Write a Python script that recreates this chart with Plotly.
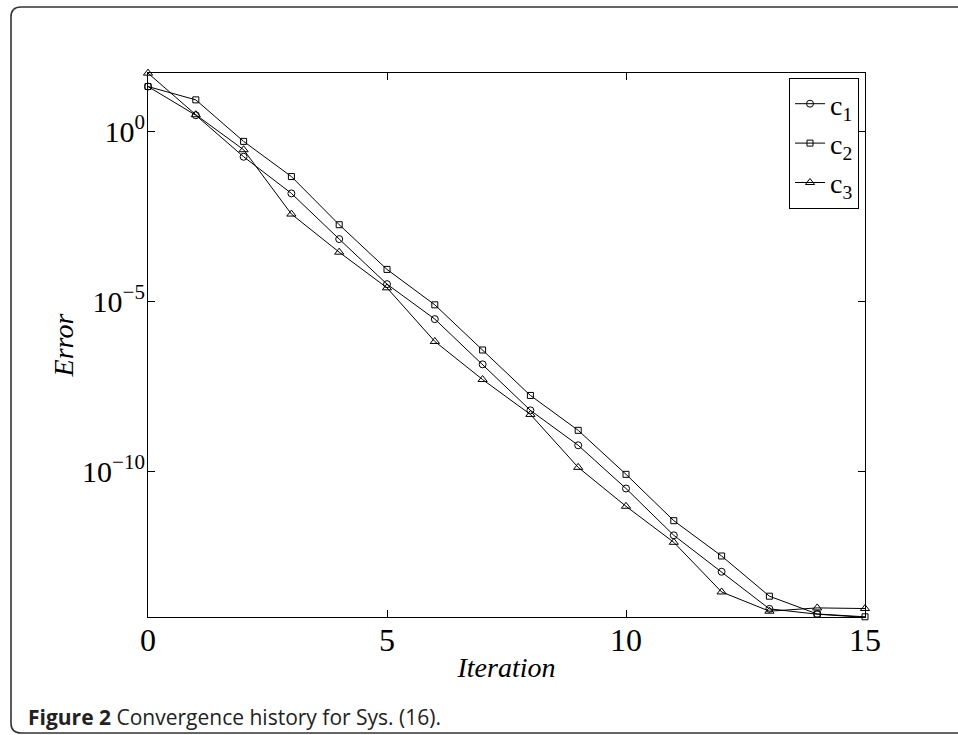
import plotly.graph_objects as go

iterations = list(range(16))
c1 = [2.1e1, 3.0e0, 1.8e-1, 1.5e-2, 6.8e-4, 3.2e-5, 3.0e-6, 1.4e-7, 6.2e-9, 5.8e-10,
      3.1e-11, 1.3e-12, 1.1e-13, 8.9e-15, 6.2e-15, 5.0e-15]
c2 = [2.1e1, 8.5e0, 5.1e-1, 4.7e-2, 1.8e-3, 8.7e-5, 7.9e-6, 3.7e-7, 1.7e-8, 1.6e-9,
      8.1e-11, 3.5e-12, 3.2e-13, 2.1e-14, 6.3e-15, 5.2e-15]
c3 = [5.2e1, 3.1e0, 2.9e-1, 3.7e-3, 2.8e-4, 2.5e-5, 6.6e-7, 5.0e-8, 4.7e-9, 1.3e-10,
      9.3e-12, 8.1e-13, 2.8e-14, 7.6e-15, 9.5e-15, 9.1e-15]
series_names = ["c<sub>1</sub>", "c<sub>2</sub>", "c<sub>3</sub>"]
x_ticks = [0, 5, 10, 15]
y_tickvals = [1e0, 1e-5, 1e-10]
y_ticktext = ["10<sup>0</sup>", "10<sup>\u22125</sup>", "10<sup>\u221210</sup>"]
caption_bold = "Figure 2"
caption_rest = " Convergence history for Sys. (16)."

W, H = 958, 735
L, R, T, B = 148, 93, 73, 118
PW, PH = W - L - R, H - T - B

def px(x):
    return (x - L) / PW

def py(y):
    return (H - B - y) / PH

serif = "Liberation Serif, Times New Roman, serif"

fig = go.Figure()
styles = [
    dict(symbol="circle-open", size=7),
    dict(symbol="square-open", size=6),
    dict(symbol="triangle-up-open", size=8),
]
for name, vals, st in zip(series_names, [c1, c2, c3], styles):
    fig.add_trace(go.Scatter(
        x=iterations, y=vals, name=name, mode="lines+markers",
        line=dict(color="black", width=1),
        marker=dict(symbol=st["symbol"], size=st["size"], color="black",
                    line=dict(color="black", width=1)),
        cliponaxis=False,
    ))

axis_common = dict(
    showline=True, linecolor="black", linewidth=1.2, mirror="allticks",
    ticks="inside", ticklen=7, tickcolor="black", tickwidth=1,
    showgrid=False, zeroline=False,
)

fig.update_xaxes(range=[0, 15], tickvals=x_ticks,
                 tickfont=dict(family=serif, size=32, color="black"), ticklabelstandoff=-6,
                 title=dict(text="<i>Iteration</i>", font=dict(family=serif, size=28, color="black"), standoff=0),
                 **axis_common)
fig.update_yaxes(type="log", range=[-14.29, 1.72], tickvals=y_tickvals, ticktext=y_ticktext,
                 tickfont=dict(family=serif, size=30, color="black"), ticklabelstandoff=-4,
                 title=dict(text="<i>Error</i>", font=dict(family=serif, size=28, color="black"), standoff=0),
                 **axis_common)

# rounded frame around the figure
x0, y0, x1, y1 = px(11), py(7), px(975), py(733)
rx, ry = 10 / PW, 10 / PH
path = (f"M {x0+rx},{y0} L {x1},{y0} L {x1},{y1} L {x0+rx},{y1} "
        f"Q {x0},{y1} {x0},{y1+ry} L {x0},{y0-ry} Q {x0},{y0} {x0+rx},{y0} Z")
fig.add_shape(type="path", path=path, xref="paper", yref="paper",
              line=dict(color="#333333", width=1.6), fillcolor="rgba(0,0,0,0)", layer="below")

fig.add_annotation(
    text=f"<b>{caption_bold}</b>{caption_rest}",
    xref="paper", yref="paper", x=px(26), y=py(717), xanchor="left", yanchor="middle",
    showarrow=False, font=dict(family="Open Sans, sans-serif", size=21, color="#222222"),
)

fig.update_layout(
    width=W, height=H,
    margin=dict(l=L, r=R, t=T, b=B, autoexpand=False),
    paper_bgcolor="white", plot_bgcolor="white",
    showlegend=True,
    legend=dict(
        x=px(859), y=py(78), xanchor="right", yanchor="top",
        bordercolor="black", borderwidth=1, bgcolor="white",
        font=dict(family=serif, size=28, color="black"),
        itemwidth=30, tracegroupgap=0,
    ),
)

fig.write_html("out.html", config={"displayModeBar": False},
               post_script="document.body.style.margin='0';")
